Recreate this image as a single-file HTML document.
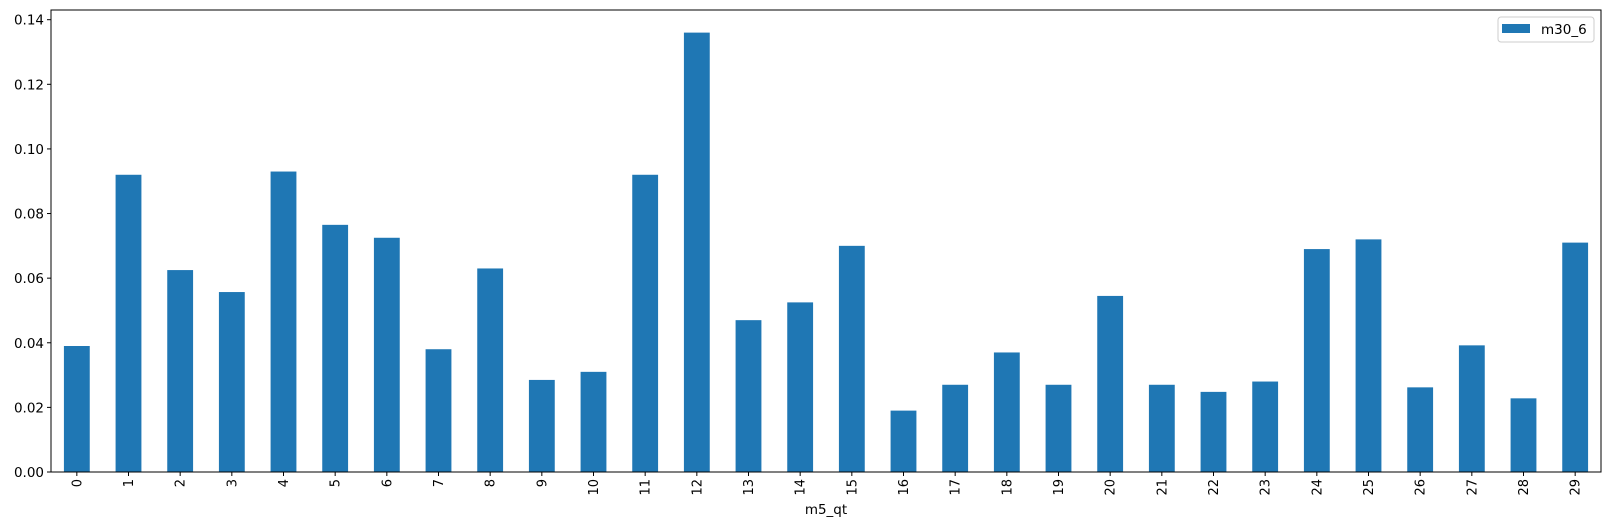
<!DOCTYPE html>
<html><head><meta charset="utf-8"><style>body{margin:0;background:#fff}svg{display:block;font-family:"DejaVu Sans","Liberation Sans",sans-serif}</style></head>
<body>
<svg id="c" width="1610" height="529"></svg>
<script>
const categories=[0,1,2,3,4,5,6,7,8,9,10,11,12,13,14,15,16,17,18,19,20,21,22,23,24,25,26,27,28,29];
const values=[0.039,0.092,0.0625,0.0557,0.093,0.0765,0.0725,0.038,0.063,0.0285,0.031,0.092,0.136,0.047,0.0525,0.070,0.019,0.027,0.037,0.027,0.0545,0.027,0.0248,0.028,0.069,0.072,0.0262,0.0392,0.0228,0.071];
const yTicks=[0,0.02,0.04,0.06,0.08,0.10,0.12,0.14];
const L=51,R=1601,T=10,B=472,yMax=0.143;
const svg=document.getElementById('c');const NS='http://www.w3.org/2000/svg';
const step=(R-L)/categories.length;
const x=i=>L+step*(i+0.5);
const y=v=>B-(v/yMax)*(B-T);
function mk(t,a){const e=document.createElementNS(NS,t);for(const k in a)e.setAttribute(k,a[k]);svg.appendChild(e);return e;}
values.forEach((v,i)=>{const r=mk('rect',{x:x(i)-step/4,y:y(v),width:step/2,height:B-y(v),fill:'#1f77b4'});

});
categories.forEach((c,i)=>{mk('line',{x1:x(i),x2:x(i),y1:B,y2:B+4,stroke:'#000'});
const t=mk('text',{x:0,y:0,'font-size':13,'text-anchor':'end',transform:`translate(${x(i)+4.5},${B+7}) rotate(-90)`});t.textContent=c;

});
yTicks.forEach(v=>{mk('line',{x1:L-4,x2:L,y1:y(v),y2:y(v),stroke:'#000'});
const t=mk('text',{x:L-7,y:y(v)+5,'font-size':13.5,'text-anchor':'end'});t.textContent=v.toFixed(2);

});
const f=mk('rect',{x:L,y:T,width:R-L,height:B-T,fill:'none',stroke:'#000','stroke-width':1});


const xl=mk('text',{x:(L+R)/2,y:514,'font-size':13.5,'text-anchor':'middle'});xl.textContent='m5_qt';


const g=mk('g',{});
const lb=document.createElementNS(NS,'rect');lb.setAttribute('x',1498);lb.setAttribute('y',17);lb.setAttribute('width',96);lb.setAttribute('height',25);lb.setAttribute('rx',3);lb.setAttribute('fill','#fff');lb.setAttribute('stroke','#ccc');g.appendChild(lb);


const lp=document.createElementNS(NS,'rect');lp.setAttribute('x',1502);lp.setAttribute('y',24);lp.setAttribute('width',28);lp.setAttribute('height',9);lp.setAttribute('fill','#1f77b4');g.appendChild(lp);


const lt=document.createElementNS(NS,'text');lt.setAttribute('x',1541);lt.setAttribute('y',34);lt.setAttribute('font-size',13.5);lt.textContent='m30_6';g.appendChild(lt);


</script>
</body></html>
